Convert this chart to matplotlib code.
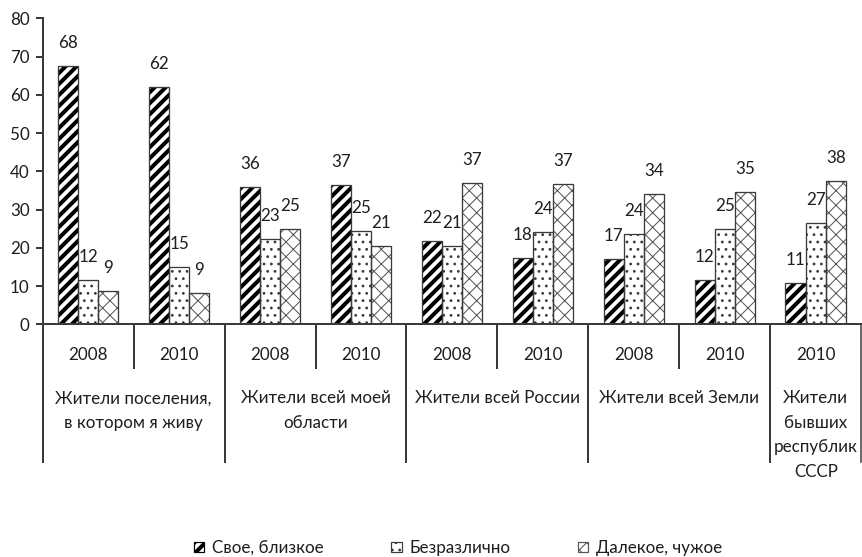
import numpy as np
import matplotlib.pyplot as plt
from matplotlib.patches import Patch

DPI = 132
W, H = 862, 557

years = ['2008', '2010', '2008', '2010', '2008', '2010', '2008', '2010', '2010']
groups = ['Жители поселения,\nв котором я живу', 'Жители всей моей\nобласти',
          'Жители всей России', 'Жители всей Земли', 'Жители\nбывших\nреспублик\nСССР']
group_sizes = [2, 2, 2, 2, 1]

series = ['Свое, близкое', 'Безразлично', 'Далекое, чужое']
own = [67.6, 62.0, 35.9, 36.3, 21.8, 17.3, 17.2, 11.7, 10.7]
indiff = [11.7, 15.0, 22.3, 24.3, 20.5, 24.1, 23.5, 24.8, 26.6]
alien = [8.6, 8.3, 24.8, 20.5, 36.9, 36.8, 34.0, 34.6, 37.5]
own_lbl = [68, 62, 36, 37, 22, 18, 17, 12, 11]
indiff_lbl = [12, 15, 23, 25, 21, 24, 24, 25, 27]
alien_lbl = [9, 9, 25, 21, 37, 37, 34, 35, 38]


def pt(px):
    # pixels -> points at this dpi
    return px * 72.0 / DPI


def hatch_lw(artist, lw):
    if hasattr(artist, 'set_hatch_linewidth'):
        artist.set_hatch_linewidth(lw)


FS = pt(17)
TXT = '#1e1e1e'
AX = '#3a3a3a'
plt.rcParams['font.family'] = ['Lato', 'DejaVu Sans']

fig = plt.figure(figsize=(W / DPI, H / DPI), dpi=DPI)
ax_h = 306.0
ax = fig.add_axes([42.7 / W, (H - 324.3) / H, 818.5 / W, ax_h / H])
ax.set_xlim(0, 9)
ax.set_ylim(0, 80)

styles = [
    dict(hatch='////', color='black', hlw=pt(4.0)),
    dict(hatch='...', color='#3a3a3a', hlw=pt(1.3)),
    dict(hatch='xxx', color='#555555', hlw=pt(1.0)),
]
values = [own, indiff, alien]
labels = [own_lbl, indiff_lbl, alien_lbl]

bw = 20.2 / 91.0
x = np.arange(len(years)) + 0.5
for i, (vals, lbls, st) in enumerate(zip(values, labels, styles)):
    xi = x + (i - 1) * bw
    with plt.rc_context({'hatch.linewidth': st['hlw']}):
        bars = ax.bar(xi, vals, bw, color='white', edgecolor=st['color'],
                      linewidth=0, hatch=st['hatch'], zorder=2)
    for b in bars:
        hatch_lw(b, st['hlw'])
    ax.bar(xi, vals, bw, fill=False, edgecolor=AX, linewidth=pt(1.3), zorder=3)
    for xx, v, l in zip(xi, vals, lbls):
        ax.annotate(str(l), (xx, v), xytext=(0, pt(23)), textcoords='offset points',
                    ha='center', va='center', fontsize=FS, color=TXT)

for s in ['top', 'right']:
    ax.spines[s].set_visible(False)
for s in ['left', 'bottom']:
    ax.spines[s].set_color(AX)
    ax.spines[s].set_linewidth(pt(2))
ax.set_yticks(range(0, 81, 10))
ax.tick_params(axis='y', length=pt(7), width=pt(2), color=AX, pad=pt(6),
               labelsize=FS, labelcolor=TXT)
ax.set_xticks([])

# category axis below the bars
tr = ax.get_xaxis_transform()
for k, yr in enumerate(years):
    ax.text(k + 0.5, -31 / ax_h, yr, transform=tr, ha='center', va='center',
            fontsize=FS, color=TXT)

start = 0
for g, n in zip(groups, group_sizes):
    ax.plot([start, start], [0, -138 / ax_h], transform=tr, clip_on=False,
            color=AX, lw=pt(2))
    for j in range(1, n):
        ax.plot([start + j, start + j], [0, -44 / ax_h], transform=tr,
                clip_on=False, color=AX, lw=pt(2))
    for j, line in enumerate(g.split('\n')):
        ax.text(start + n / 2, -(74 + 24.5 * j) / ax_h, line, transform=tr,
                ha='center', va='center', fontsize=FS, color=TXT)
    start += n
ax.plot([start, start], [0, -138 / ax_h], transform=tr, clip_on=False,
        color=AX, lw=pt(1.5))

handles = []
for name, st in zip(series, styles):
    with plt.rc_context({'hatch.linewidth': st['hlw']}):
        h = Patch(facecolor='white', edgecolor=st['color'], hatch=st['hatch'],
                  linewidth=pt(1.2), label=name)
    hatch_lw(h, st['hlw'])
    handles.append(h)
leg = fig.legend(handles=handles, loc='center', bbox_to_anchor=(458 / W, (H - 548) / H),
                 ncol=3, frameon=False, fontsize=FS, handlelength=0.6, handleheight=0.6,
                 handletextpad=0.45, columnspacing=4.0, borderpad=0, labelcolor=TXT)
for p, st in zip(leg.get_patches(), styles):
    hatch_lw(p, st['hlw'])

fig.savefig('out.png', dpi=DPI)
